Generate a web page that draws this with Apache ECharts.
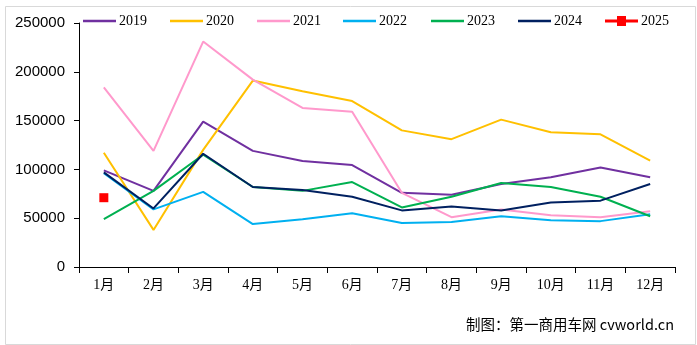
<!DOCTYPE html>
<html><head><meta charset="utf-8">
<script src="https://cdn.jsdelivr.net/npm/echarts@6/dist/echarts.min.js"></script>
<style>html,body{margin:0;padding:0;background:#fff}#c{width:697px;height:345px}</style>
</head><body><div id="c"></div>
<script>
const months = ['1月','2月','3月','4月','5月','6月','7月','8月','9月','10月','11月','12月'];
const yTicks = [0, 50000, 100000, 150000, 200000, 250000];
const s2019 = [99000, 78000, 149000, 119000, 108500, 104500, 76000, 74000, 85000, 92000, 102000, 92000];
const s2020 = [117000, 38000, 120000, 191000, 180000, 170000, 140000, 131000, 151000, 138000, 136000, 109000];
const s2021 = [184000, 119000, 231000, 192000, 163000, 159000, 76000, 51000, 59000, 53000, 51000, 57000];
const s2022 = [96000, 59000, 77000, 44000, 49000, 55000, 45000, 46000, 52000, 48000, 47000, 54000];
const s2023 = [49000, 78000, 115000, 82000, 78000, 87000, 61000, 72000, 86000, 82000, 72000, 52000];
const s2024 = [97000, 60000, 116000, 82000, 79000, 72000, 58000, 62000, 58000, 66000, 68000, 85000];
const s2025 = [71000];
const names = ['2019','2020','2021','2022','2023','2024','2025'];
const colors = ['#7030A0','#FFC000','#FF99CC','#00B0F0','#00B050','#002060','#FF0000'];
const dataSets = [s2019, s2020, s2021, s2022, s2023, s2024, s2025];
const legendLefts = [78, 165, 252, 338, 426, 513, 600];

const chart = echarts.init(document.getElementById('c'));
const series = dataSets.map((d, i) => {
  const last = i === 6;
  return {
    name: names[i], type: 'line', data: d,
    symbol: last ? 'rect' : 'none', symbolSize: last ? 9 : 0,
    showSymbol: last,
    itemStyle: { color: colors[i] },
    lineStyle: { color: colors[i], width: last ? 4 : 2 },
    z: last ? 10 : 2 + i,
    animation: false
  };
});
chart.setOption({
  animation: false,
  backgroundColor: '#fff',
  grid: { left: 79, right: 22, top: 23, bottom: 78 },
  legend: names.map((n, i) => {
    const last = i === 6;
    return {
      data: [n], left: legendLefts[i], top: 9,
      itemWidth: 33, itemHeight: last ? 10 : 2.5, itemGap: 4,
      icon: last ? 'path://M0,3.5H33V6.5H0Z M12,0H21V10H12Z' : 'rect',
      textStyle: { fontFamily: 'Liberation Serif', fontSize: 14, color: '#000', padding: [0,0,0,-2] }
    };
  }),
  xAxis: {
    type: 'category', data: months, boundaryGap: true,
    axisLine: { lineStyle: { color: '#000', width: 1 } },
    axisTick: { show: true, length: 6, lineStyle: { color: '#000' }, alignWithLabel: false },
    axisLabel: { fontFamily: 'Liberation Serif, Noto Sans CJK SC', fontSize: 14, color: '#000', margin: 11 },
    splitLine: { show: false }
  },
  yAxis: {
    type: 'value', min: yTicks[0], max: yTicks[yTicks.length - 1], interval: 50000,
    axisLine: { show: true, lineStyle: { color: '#000', width: 1 } },
    axisTick: { show: true, length: 5, lineStyle: { color: '#000' } },
    axisLabel: { fontFamily: 'Liberation Sans', fontSize: 15, color: '#000', margin: 14, formatter: v => String(v) },
    splitLine: { show: false }
  },
  graphic: [
    { type: 'rect', left: 3, top: 4, shape: { width: 690, height: 338 }, style: { fill: 'none', stroke: '#d9d9d9', lineWidth: 1 }, silent: true, z: -1 },
    { type: 'text', left: 466, top: 317, style: { text: '制图：第一商用车网 cvworld.cn', font: '14.5px "Noto Sans CJK SC", sans-serif', fill: '#000' } }
  ],
  series: series
});
</script></body></html>
